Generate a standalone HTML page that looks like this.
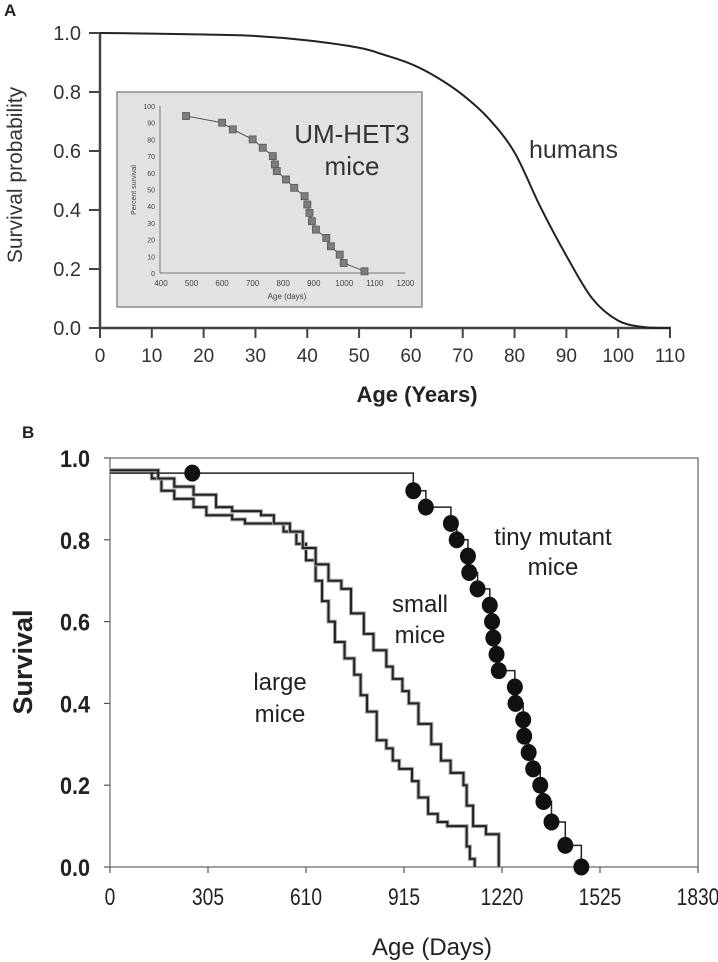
<!DOCTYPE html>
<html><head><meta charset="utf-8">
<style>
html,body{margin:0;padding:0;background:#fff;}
svg{display:block;font-family:"Liberation Sans",Arial,sans-serif;}
</style></head>
<body>
<svg id="fig" width="718" height="962" viewBox="0 0 718 962">
  <text x="4" y="16" font-size="17" font-weight="bold" fill="#222">A</text>
  <text x="22" y="438" font-size="17" font-weight="bold" fill="#222">B</text>
  <g id="panelA"></g>
  <g id="inset"></g>
  <g id="panelB"></g>
</svg>
<script>
// ---- Panel A data ----
const humanAges = [0,10,20,30,40,50,55,60,65,70,75,80,85,90,95,100,105,110];
const humanSurv = [1.0,0.998,0.995,0.99,0.975,0.95,0.925,0.895,0.85,0.79,0.71,0.595,0.41,0.245,0.1,0.025,0.003,0];
const aXTicks = [0,10,20,30,40,50,60,70,80,90,100,110];
const aYTicks = ["0.0","0.2","0.4","0.6","0.8","1.0"];
// ---- Inset data ----
const insetDays = [482,600,635,700,733,766,773,779,809,836,870,879,886,894,907,941,956,985,998,1066];
const insetPct = [94,90,86,80,75,70,65,61,56,51,46,41,36,31,26,21,16,11,6,1];
const insetXTicks = [400,500,600,700,800,900,1000,1100,1200];
const insetYTicks = [0,10,20,30,40,50,60,70,80,90,100];
// ---- Panel B data ----
const tinyDays = [256,944,983,1061,1079,1114,1118,1144,1182,1189,1193,1203,1210,1260,1262,1286,1289,1303,1317,1339,1349,1374,1417,1467];
const tinySurv = [0.963,0.92,0.88,0.84,0.80,0.76,0.72,0.68,0.64,0.60,0.56,0.52,0.48,0.44,0.40,0.36,0.32,0.28,0.24,0.20,0.16,0.11,0.053,0];
const largeDays = [0,100,130,160,200,260,300,380,420,500,540,580,610,640,660,680,700,730,760,780,800,830,860,880,900,940,960,990,1020,1050,1090,1110,1120,1135];
const largeSurv = [0.97,0.97,0.95,0.92,0.90,0.88,0.86,0.85,0.84,0.84,0.82,0.79,0.75,0.70,0.65,0.60,0.55,0.51,0.47,0.42,0.38,0.31,0.29,0.26,0.24,0.21,0.17,0.13,0.11,0.10,0.10,0.05,0.02,0];
const smallDays = [0,110,150,200,260,330,380,470,510,560,600,640,680,720,750,790,820,860,880,910,930,960,1000,1030,1060,1100,1110,1130,1170,1210];
const smallSurv = [0.97,0.97,0.95,0.93,0.91,0.88,0.87,0.86,0.84,0.82,0.78,0.74,0.70,0.68,0.62,0.57,0.53,0.49,0.46,0.43,0.40,0.35,0.30,0.26,0.23,0.20,0.15,0.10,0.08,0];
const bXTicks = [0,305,610,915,1220,1525,1830];
const bYTicks = ["0.0","0.2","0.4","0.6","0.8","1.0"];

const NS = "http://www.w3.org/2000/svg";
function mk(parent, tag, attrs, text){
  const e = document.createElementNS(NS, tag);
  for (const k in attrs) e.setAttribute(k, attrs[k]);
  if (text !== undefined) e.textContent = text;
  parent.appendChild(e);
  return e;
}

// ===== Panel A =====
const A = document.getElementById('panelA');
const ax = a => 100 + a * (570 / 110);
const ay = s => 328 - s * 295;
let e;
e = mk(A,'line',{x1:100,y1:ay(1),x2:100,y2:329,stroke:'#444','stroke-width':2.5});
 
e = mk(A,'line',{x1:99,y1:328,x2:671,y2:328,stroke:'#444','stroke-width':2.5});
 
aXTicks.forEach(t=>{
  const x = ax(t);
  e = mk(A,'line',{x1:x,y1:328,x2:x,y2:338,stroke:'#444','stroke-width':2});
   
  e = mk(A,'text',{x:x,y:362,'font-size':19,'text-anchor':'middle',fill:'#333'},String(t));
   
});
aYTicks.forEach(t=>{
  const y = ay(parseFloat(t));
  e = mk(A,'line',{x1:89,y1:y,x2:100,y2:y,stroke:'#444','stroke-width':2});
   
  e = mk(A,'text',{x:81,y:y+7,'font-size':20,'text-anchor':'end',fill:'#333'},t);
   
});
e = mk(A,'text',{x:417,y:402,'font-size':22,'font-weight':'bold','text-anchor':'middle',fill:'#222'},'Age (Years)');
 
e = mk(A,'text',{x:0,y:0,'font-size':21,'text-anchor':'middle',fill:'#333',transform:'translate(22,175) rotate(-90)'},'Survival probability');
 
{
  const P = humanAges.map((a,i)=>[ax(a),ay(humanSurv[i])]);
  let d = `M${P[0][0]},${P[0][1]}`;
  for (let i=0;i<P.length-1;i++){
    const p0=P[Math.max(0,i-1)], p1=P[i], p2=P[i+1], p3=P[Math.min(P.length-1,i+2)];
    const c1=[p1[0]+(p2[0]-p0[0])/6, p1[1]+(p2[1]-p0[1])/6];
    const c2=[p2[0]-(p3[0]-p1[0])/6, p2[1]-(p3[1]-p1[1])/6];
    d += ` C${c1[0]},${c1[1]} ${c2[0]},${c2[1]} ${p2[0]},${p2[1]}`;
  }
  e = mk(A,'path',{d:d,fill:'none',stroke:'#222','stroke-width':2});
   
}
e = mk(A,'text',{x:529,y:158,'font-size':25,fill:'#333'},'humans');
 

// ===== Inset =====
const I = document.getElementById('inset');
const ix = d => 161 + (d - 400) * 0.3055;
const iy = p => 273 - p * 1.67;
e = mk(I,'rect',{x:117,y:92,width:305,height:215,fill:'#e2e2e2',stroke:'#8a8a8a','stroke-width':1.5});
 
e = mk(I,'line',{x1:160,y1:iy(100),x2:160,y2:273,stroke:'#777','stroke-width':1});
 
e = mk(I,'line',{x1:160,y1:273,x2:ix(1200),y2:273,stroke:'#777','stroke-width':1});
 
insetXTicks.forEach(t=>{
  e = mk(I,'text',{x:ix(t),y:286,'font-size':8,'text-anchor':'middle',fill:'#444'},String(t));
   
});
insetYTicks.forEach(t=>{
  e = mk(I,'text',{x:155,y:iy(t)+3,'font-size':7,'text-anchor':'end',fill:'#444'},String(t));
   
});
e = mk(I,'text',{x:287,y:299,'font-size':8,'text-anchor':'middle',fill:'#444'},'Age (days)');
 
e = mk(I,'text',{x:0,y:0,'font-size':7,'text-anchor':'middle',fill:'#444',transform:'translate(136,190) rotate(-90)'},'Percent survival');
 
e = mk(I,'polyline',{points:insetDays.map((d,i)=>`${ix(d)},${iy(insetPct[i])}`).join(' '),fill:'none',stroke:'#555','stroke-width':1});
 
insetDays.forEach((d,i)=>{
  e = mk(I,'rect',{x:ix(d)-3.5,y:iy(insetPct[i])-3.5,width:7,height:7,fill:'#7d7d7d',stroke:'#555','stroke-width':0.8});
   
});
e = mk(I,'text',{x:352,y:143,'font-size':26,'text-anchor':'middle',fill:'#333'},'UM-HET3');
 
e = mk(I,'text',{x:352,y:175,'font-size':26,'text-anchor':'middle',fill:'#333'},'mice');
 

// ===== Panel B =====
const B = document.getElementById('panelB');
const bx = d => 110 + d * (588 / 1830);
const by = s => 867 - s * 409;
e = mk(B,'rect',{x:110,y:by(1),width:588,height:409,fill:'none',stroke:'#666','stroke-width':1.2});
 
bXTicks.forEach(t=>{
  const x = bx(t);
  e = mk(B,'line',{x1:x,y1:867,x2:x,y2:873,stroke:'#555','stroke-width':1.2});
   
  e = mk(B,'text',{x:x,y:905,'font-size':24,'text-anchor':'middle',fill:'#222',transform:`translate(${x*0.2},0) scale(0.8,1)`},String(t));
   
});
bYTicks.forEach(t=>{
  const y = by(parseFloat(t));
  e = mk(B,'line',{x1:104,y1:y,x2:110,y2:y,stroke:'#555','stroke-width':1.2});
   
  e = mk(B,'text',{x:90,y:y+9,'font-size':24,'font-weight':'bold','text-anchor':'end',fill:'#222',transform:`translate(${90*0.1},0) scale(0.9,1)`},t);
   
});
e = mk(B,'text',{x:432,y:955,'font-size':24,'text-anchor':'middle',fill:'#222'},'Age (Days)');
 
e = mk(B,'text',{x:0,y:0,'font-size':27,'font-weight':'bold','text-anchor':'middle',fill:'#222',transform:'translate(32,662) rotate(-90)'},'Survival');
 

function stepPath(days, surv, startDay, startSurv){
  let d = `M${bx(startDay)},${by(startSurv)}`;
  days.forEach((v,i)=>{ d += ` H${bx(v)} V${by(surv[i])}`; });
  return d;
}
[['large',largeDays,largeSurv],['small',smallDays,smallSurv]].forEach(([n,ds,ss])=>{
  e = mk(B,'path',{d:stepPath(ds,ss,ds[0],ss[0]),fill:'none',stroke:'#aaa','stroke-width':4});
   
  e = mk(B,'path',{d:stepPath(ds,ss,ds[0],ss[0]),fill:'none',stroke:'#222','stroke-width':2});
   
});
e = mk(B,'path',{d:stepPath(tinyDays,tinySurv,0,tinySurv[0]),fill:'none',stroke:'#222','stroke-width':1.5});
 
tinyDays.forEach((d,i)=>{
  e = mk(B,'ellipse',{cx:bx(d),cy:by(tinySurv[i]),rx:8,ry:8.5,fill:'#111'});
   
});
const lbl = (x,y,t,n)=>{ const el = mk(B,'text',{x:x,y:y,'font-size':24,'text-anchor':'middle',fill:'#222'},t);
    };
lbl(553,545,'tiny mutant','tiny-mutant-label');
lbl(553,575,'mice','tiny-mutant-label-2');
lbl(420,612,'small','small-mice-label');
lbl(420,643,'mice','small-mice-label-2');
lbl(280,690,'large','large-mice-label');
lbl(280,722,'mice','large-mice-label-2');
</script>
</body></html>
